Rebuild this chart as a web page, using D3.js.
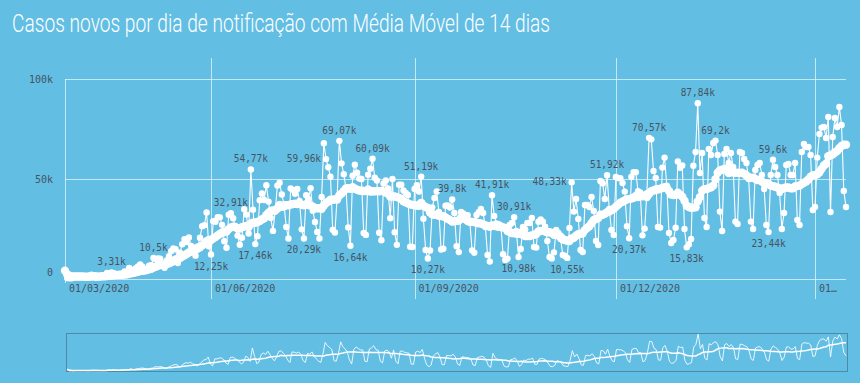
<!DOCTYPE html>
<html><head><meta charset="utf-8">
<script src="https://cdn.jsdelivr.net/npm/d3@7"></script>
<style>
html,body{margin:0;padding:0;background:#63bee4;}
svg{display:block;}
</style></head><body>
<svg id="chart" width="860" height="383"></svg>
<script>
// ---------- DATA ----------
const title = "Casos novos por dia de notificação com Média Móvel de 14 dias";
const startDate = "2020-03-27";
const casesMar2020 = [4100, 487, 352, 323, 1138];
const casesApr2020 = [1119, 1074, 1146, 1222, 852, 926, 1661, 2210, 1930, 1781, 1089, 1442, 1261, 1832, 3058, 2105, 3310, 2917, 2055, 1927, 2498, 2678, 3735, 3503, 5514, 3379, 4613, 5385, 6276, 7218];
const casesMay2020 = [6209, 4970, 4588, 6633, 6935, 10503, 9888, 10222, 10167, 6760, 5632, 9258, 11385, 13944, 15305, 14919, 7938, 13140, 17408, 19951, 18508, 20803, 16508, 15813, 11687, 16324, 20599, 26417, 26928, 33274, 16409];
const casesJun2020 = [12247, 28936, 28633, 30925, 30830, 27075, 18912, 15654, 32091, 32913, 30412, 25982, 21704, 17110, 20647, 34918, 32188, 22765, 54771, 34666, 17459, 21432, 39436, 42725, 39483, 46907, 38693, 30476, 24052, 33846];
const casesJul2020 = [46712, 48105, 42223, 37279, 26051, 20229, 45305, 44571, 42619, 45048, 39023, 24831, 20286, 41857, 39924, 45403, 34177, 28532, 23529, 20257, 41008, 67860, 59961, 55891, 51147, 24578, 23284, 40816, 69074, 57837, 52383];
const casesAug2020 = [45392, 25800, 16641, 51603, 57152, 53139, 50230, 49970, 23010, 22048, 52160, 55155, 60091, 50644, 49274, 23101, 19373, 47784, 49298, 45323, 30355, 50032, 23421, 17078, 47134, 47161, 44235, 43000, 42000, 16158, 16000];
const casesSep2020 = [45000, 46934, 43773, 51194, 30168, 14521, 10273, 14279, 35816, 40557, 43718, 33523, 14768, 15155, 36653, 36820, 35757, 39797, 33057, 16389, 13439, 33536, 32817, 31911, 31922, 28378, 14318, 13155, 32058, 33413];
const casesOct2020 = [35000, 33000, 26000, 12000, 8700, 41906, 31553, 27750, 27444, 26749, 12342, 9500, 10200, 27000, 28000, 30914, 24000, 10982, 15000, 26000, 24800, 28000, 28000, 30500, 16000, 15700, 28600, 29800, 28600, 26100, 19000];
const casesNov2020 = [11000, 10300, 13300, 24500, 23000, 20000, 12000, 11500, 10554, 25500, 48331, 33700, 40000, 30000, 14500, 13500, 37000, 37000, 36000, 41000, 34000, 19000, 17000, 49000, 47900, 40000, 51922, 35000, 24500, 22000];
const casesDec2020 = [51000, 50500, 50434, 48000, 43700, 26363, 20371, 51088, 53453, 53347, 43900, 43225, 21825, 25193, 42889, 70574, 69826, 54000, 50500, 26000, 25700, 55700, 60700, 46696, 23000, 18000, 19500, 25614, 58718, 55649, 56773];
const casesJan2021 = [25000, 15827, 17341, 20006, 56648, 63504, 87843, 53000, 63000, 30500, 26000, 65000, 62000, 68000, 69198, 62000, 33700, 24000, 62500, 65000, 58000, 63000, 56000, 28700, 27500, 63500, 63000, 60000, 58000, 50000, 28700];
const casesFeb2021 = [25000, 54500, 57000, 58000, 52000, 45000, 27000, 23439, 52000, 59602, 56000, 52000, 43000, 25000, 33000, 57000, 57500, 52000, 52000, 58000, 29500, 27000, 63500, 67500, 66000, 66000, 62000, 34500];
const casesMar2021 = [36000, 60700, 72500, 75700, 76000, 70500, 81000, 33500, 71000, 80500, 76000, 86000, 77000, 44000, 36000];

const movingWindow = 14;
const yTicks = [0, 50000, 100000];
const yTickLabels = ["0", "50k", "100k"];
const xTickDates = ["2020-03-01", "2020-06-01", "2020-09-01", "2020-12-01", "2021-03-01"];
const xTickLabels = ["01/03/2020", "01/06/2020", "01/09/2020", "01/12/2020", "01…"];
// [date, text, placement]
const pointLabels = [
  ["2020-04-17", "3,31k", "above"],
  ["2020-05-06", "10,5k", "above"],
  ["2020-06-01", "12,25k", "below"],
  ["2020-06-10", "32,91k", "above"],
  ["2020-06-19", "54,77k", "above"],
  ["2020-06-21", "17,46k", "below"],
  ["2020-07-13", "20,29k", "below"],
  ["2020-07-23", "59,96k", "left"],
  ["2020-07-29", "69,07k", "above"],
  ["2020-08-03", "16,64k", "below"],
  ["2020-08-13", "60,09k", "above"],
  ["2020-09-04", "51,19k", "above"],
  ["2020-09-07", "10,27k", "below"],
  ["2020-09-18", "39,8k", "above"],
  ["2020-10-06", "41,91k", "above"],
  ["2020-10-16", "30,91k", "above"],
  ["2020-10-18", "10,98k", "below"],
  ["2020-11-09", "10,55k", "below"],
  ["2020-11-11", "48,33k", "left"],
  ["2020-11-27", "51,92k", "above"],
  ["2020-12-07", "20,37k", "below"],
  ["2020-12-16", "70,57k", "above"],
  ["2021-01-02", "15,83k", "below"],
  ["2021-01-07", "87,84k", "above"],
  ["2021-01-15", "69,2k", "above"],
  ["2021-02-08", "23,44k", "below"],
  ["2021-02-10", "59,6k", "above"]
];

// ---------- BUILD ----------
const daily = [].concat(casesMar2020, casesApr2020, casesMay2020, casesJun2020, casesJul2020,
  casesAug2020, casesSep2020, casesOct2020, casesNov2020, casesDec2020, casesJan2021, casesFeb2021, casesMar2021);
const parse = d3.utcParse("%Y-%m-%d");
const t0 = parse(startDate);
const data = daily.map((v, i) => ({ date: d3.utcDay.offset(t0, i), value: v }));
data.forEach((d, i) => { d.ma = d3.mean(daily.slice(Math.max(0, i - movingWindow + 1), i + 1)); });
const byDate = new Map(data.map(d => [+d.date, d]));

const BG = "#63bee4";
const GRID = "rgba(235,248,255,0.72)";
const TXT = "#45545f";
const MONO = "'DejaVu Sans Mono', 'Liberation Mono', monospace";

const svg = d3.select("#chart");
svg.append("rect").attr("width", 860).attr("height", 383).attr("fill", BG);

const x = d3.scaleUtc().domain([t0, data[data.length - 1].date]).range([65, 846]);
const y = d3.scaleLinear().domain([0, 100000]).range([279, 79]);

// title
svg.append("text").attr("x", 12).attr("y", 32)
  .attr("font-family", "Roboto, 'Open Sans', sans-serif").attr("font-weight", 300)
  .attr("font-size", 26.5).attr("fill", "#ffffff")
  .attr("textLength", 538).attr("lengthAdjust", "spacingAndGlyphs")
  .text(title);

// horizontal grid
const grid = svg.append("g");
grid.selectAll("line.h").data(yTicks).join("line")
  .attr("x1", 65).attr("x2", 846)
  .attr("y1", d => y(d) + 0.5).attr("y2", d => y(d) + 0.5)
  .attr("stroke", GRID).attr("stroke-width", 1);
// left axis line
grid.append("line").attr("x1", 65.5).attr("x2", 65.5).attr("y1", y(100000)).attr("y2", 283)
  .attr("stroke", GRID);
// vertical grid
const xt = xTickDates.map((d, i) => ({ date: parse(d), label: xTickLabels[i] }));
grid.selectAll("line.v").data(xt.filter(d => d.date >= t0)).join("line")
  .attr("x1", d => Math.round(x(d.date)) + 0.5).attr("x2", d => Math.round(x(d.date)) + 0.5)
  .attr("y1", 58).attr("y2", 299)
  .attr("stroke", GRID).attr("stroke-width", 1);

// y labels
svg.append("g").selectAll("text").data(yTicks).join("text")
  .attr("x", 53).attr("y", d => Math.min(y(d), 272) + 3.5)
  .attr("text-anchor", "end").attr("font-family", MONO).attr("font-size", 10)
  .attr("fill", TXT).text((d, i) => yTickLabels[i]);
// x labels
svg.append("g").selectAll("text").data(xt).join("text")
  .attr("x", d => Math.max(x(d.date), 65) + 4).attr("y", 292)
  .attr("font-family", MONO).attr("font-size", 10)
  .attr("fill", TXT).text(d => d.label);

// daily series
const lineDaily = d3.line().x(d => x(d.date)).y(d => y(d.value));
svg.append("path").datum(data).attr("d", lineDaily)
  .attr("fill", "none").attr("stroke", "#ffffff").attr("stroke-width", 1.1).attr("stroke-linejoin", "round");
svg.append("g").selectAll("circle").data(data).join("circle")
  .attr("cx", d => x(d.date)).attr("cy", d => y(d.value)).attr("r", 3.2).attr("fill", "#ffffff");

// moving average
const lineMA = d3.line().x(d => x(d.date)).y(d => y(d.ma));
svg.append("path").datum(data).attr("d", lineMA)
  .attr("fill", "none").attr("stroke", "#ffffff").attr("stroke-width", 5).attr("stroke-linejoin", "round");
svg.append("g").selectAll("circle").data(data).join("circle")
  .attr("cx", d => x(d.date)).attr("cy", d => y(d.ma)).attr("r", 4.2).attr("fill", "#ffffff");

// point labels
svg.append("g").selectAll("text").data(pointLabels).join("text")
  .each(function (p) {
    const d = byDate.get(+parse(p[0]));
    const px = x(d.date), py = y(d.value);
    const t = d3.select(this);
    if (p[2] === "above") t.attr("x", px).attr("y", py - 7).attr("text-anchor", "middle");
    else if (p[2] === "below") t.attr("x", px).attr("y", py + 15).attr("text-anchor", "middle");
    else t.attr("x", px - 5).attr("y", py + 3).attr("text-anchor", "end");
  })
  .attr("font-family", MONO).attr("font-size", 11).attr("fill", TXT)
  .attr("textLength", p => p[1].length * 5.7).attr("lengthAdjust", "spacingAndGlyphs")
  .text(p => p[1]);

// navigator
const nav = svg.append("g");
const xn = d3.scaleUtc().domain(x.domain()).range([67, 846]);
const yn = d3.scaleLinear().domain([0, d3.max(daily)]).range([371, 334]);
nav.append("rect").attr("x", 66.5).attr("y", 333.5).attr("width", 781).attr("height", 38)
  .attr("fill", "none").attr("stroke", "rgba(60,95,115,0.55)").attr("stroke-width", 1);
nav.append("path").datum(data).attr("d", d3.line().x(d => xn(d.date)).y(d => yn(d.value)))
  .attr("fill", "none").attr("stroke", "rgba(255,255,255,0.85)").attr("stroke-width", 1);
nav.append("path").datum(data).attr("d", d3.line().x(d => xn(d.date)).y(d => yn(d.ma)))
  .attr("fill", "none").attr("stroke", "#ffffff").attr("stroke-width", 1.5);
</script>
</body></html>
